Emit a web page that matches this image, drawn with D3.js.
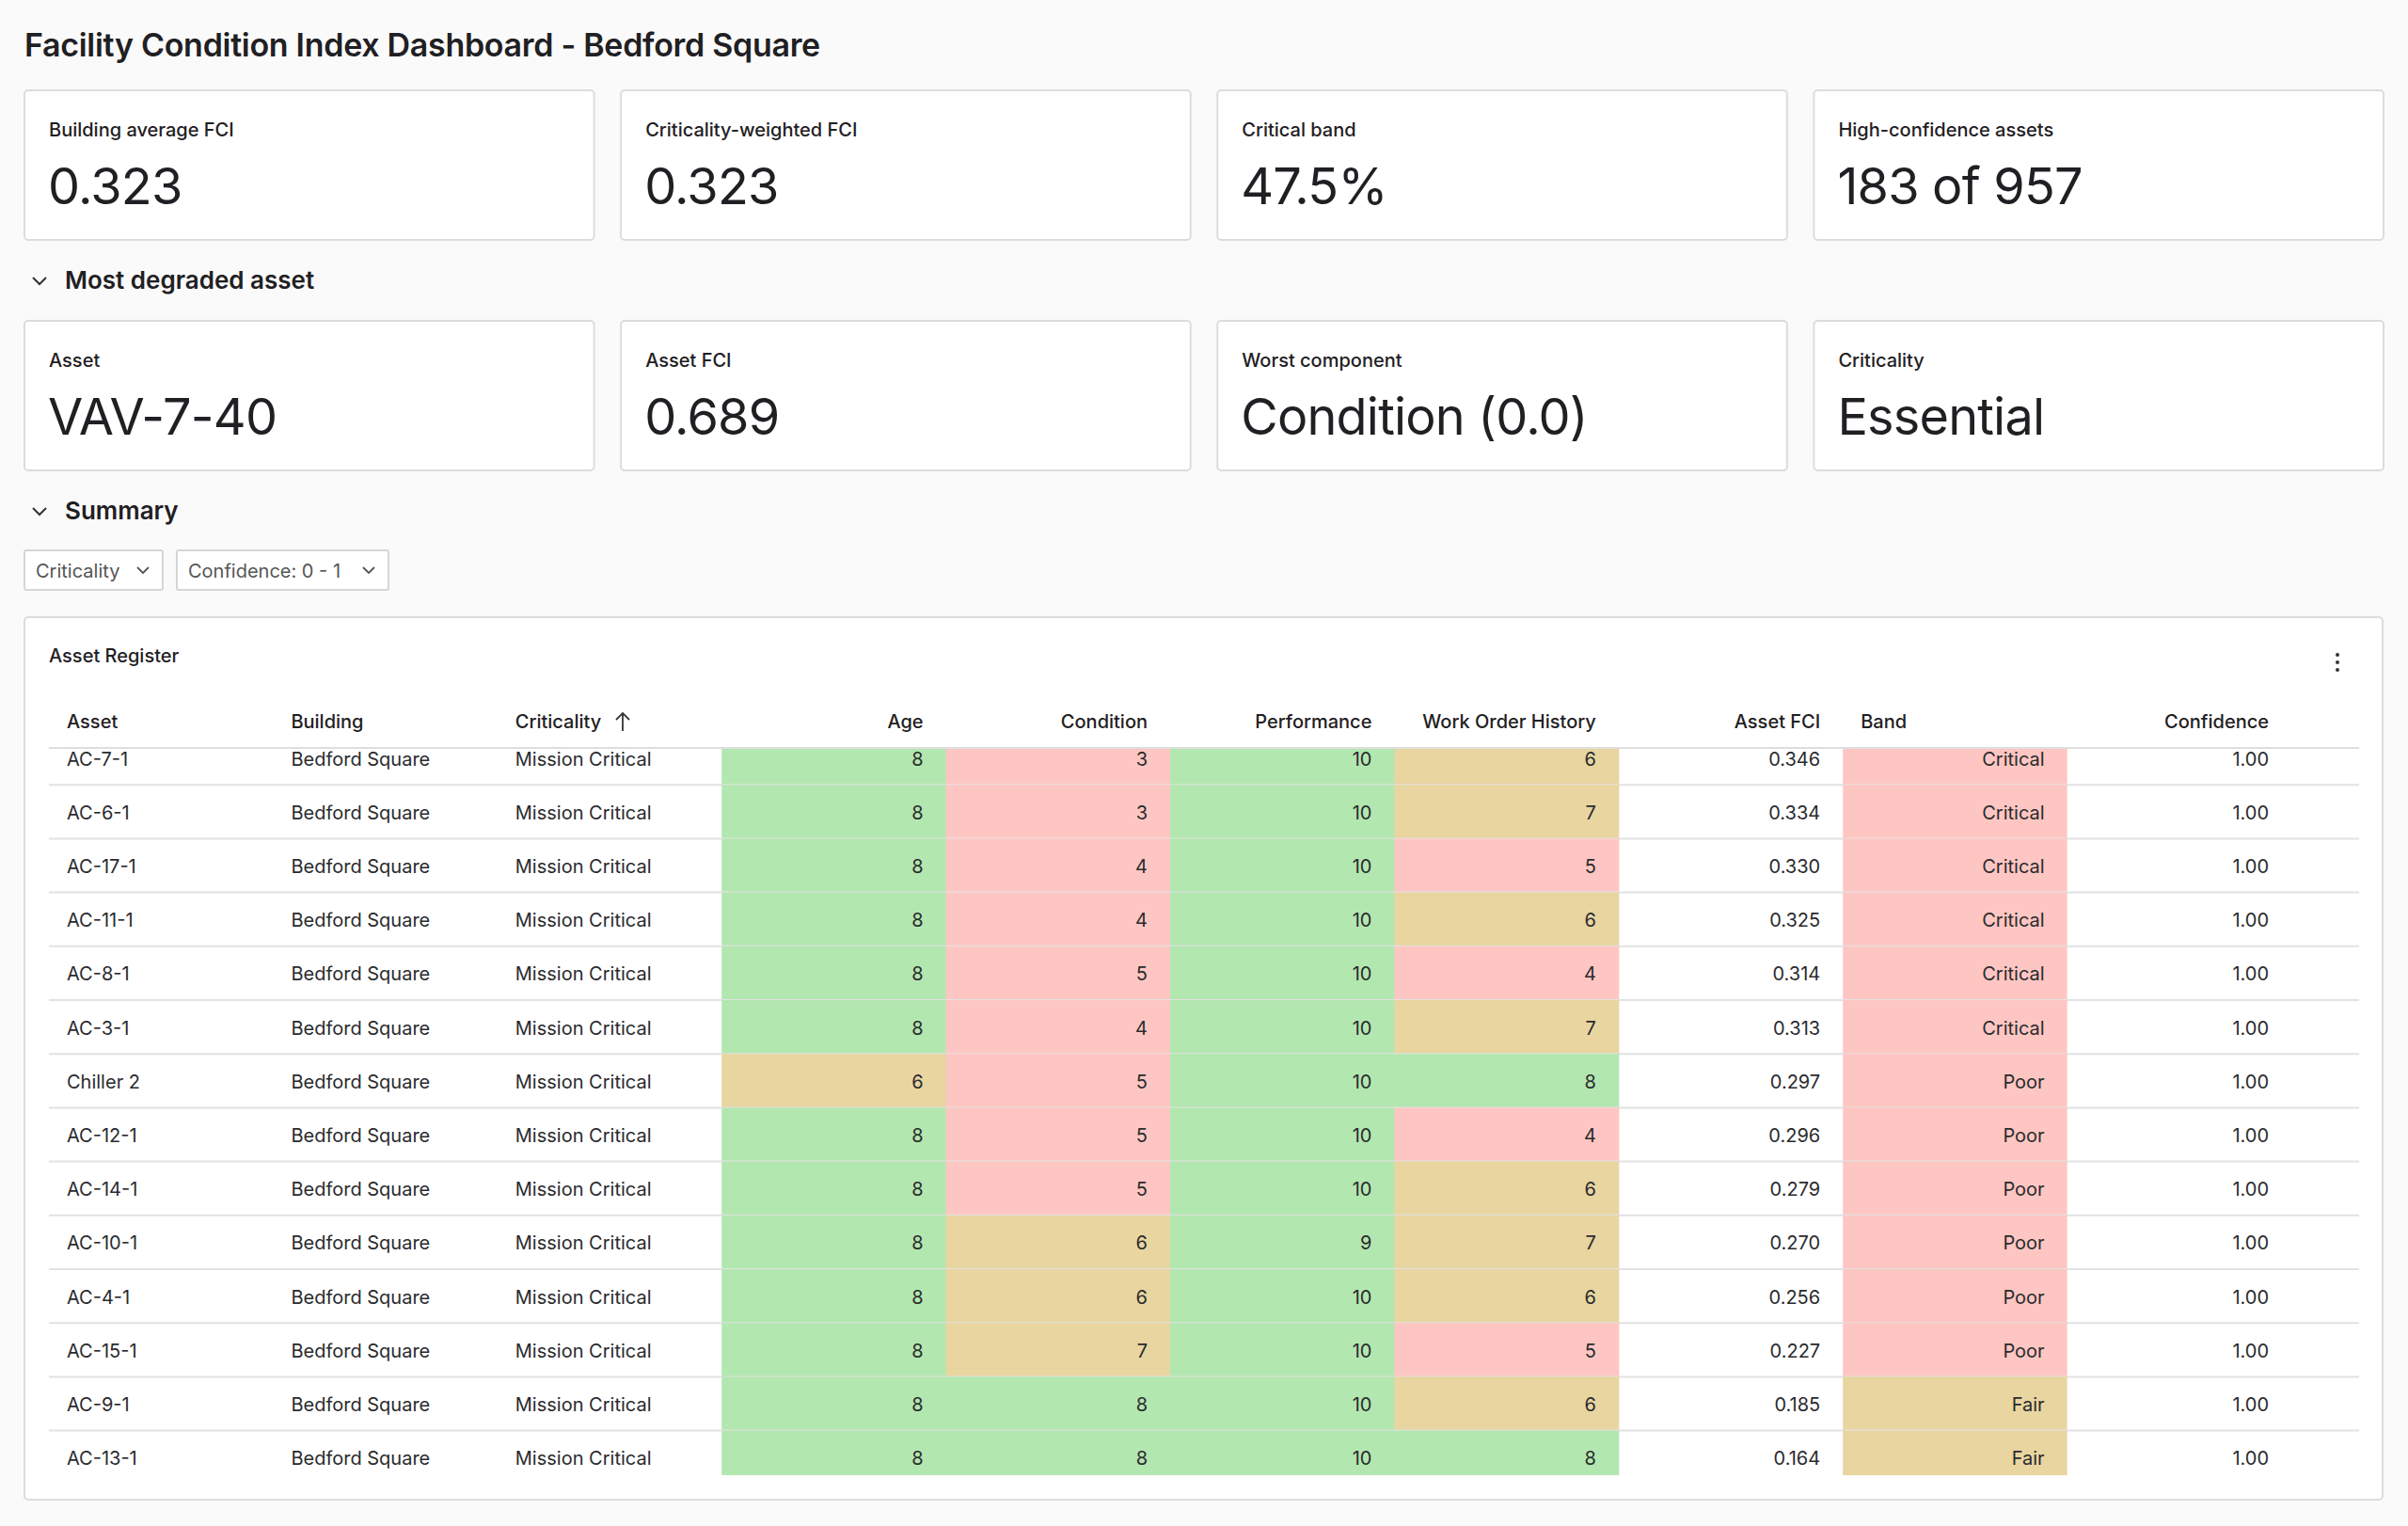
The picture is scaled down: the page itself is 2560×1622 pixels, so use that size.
<!DOCTYPE html>
<html>
<head>
<meta charset="utf-8">
<script src="https://cdn.jsdelivr.net/npm/d3@7"></script>
<style>
  body { margin: 0; background: #fafafa; font-family: Inter, "Noto Sans", sans-serif; }
  svg text { font-family: Inter, "Noto Sans", sans-serif; fill: #1f2023; }
</style>
</head>
<body>
<svg id="dash"></svg>
<script>
const kpiLabels = ["Building average FCI", "Criticality-weighted FCI", "Critical band", "High-confidence assets"];
const kpiValues = ["0.323", "0.323", "47.5%", "183 of 957"];
const worstLabels = ["Asset", "Asset FCI", "Worst component", "Criticality"];
const worstValues = ["VAV-7-40", "0.689", "Condition (0.0)", "Essential"];

const columns = ["Asset", "Building", "Criticality", "Age", "Condition", "Performance", "Work Order History", "Asset FCI", "Band", "Confidence"];
const assets = ["AC-7-1", "AC-6-1", "AC-17-1", "AC-11-1", "AC-8-1", "AC-3-1", "Chiller 2", "AC-12-1", "AC-14-1", "AC-10-1", "AC-4-1", "AC-15-1", "AC-9-1", "AC-13-1"];
const age = [8, 8, 8, 8, 8, 8, 6, 8, 8, 8, 8, 8, 8, 8];
const condition = [3, 3, 4, 4, 5, 4, 5, 5, 5, 6, 6, 7, 8, 8];
const performance = [10, 10, 10, 10, 10, 10, 10, 10, 10, 9, 10, 10, 10, 10];
const workOrders = [6, 7, 5, 6, 4, 7, 8, 4, 6, 7, 6, 5, 6, 8];
const assetFci = [0.346, 0.334, 0.330, 0.325, 0.314, 0.313, 0.297, 0.296, 0.279, 0.270, 0.256, 0.227, 0.185, 0.164];
const band = ["Critical", "Critical", "Critical", "Critical", "Critical", "Critical", "Poor", "Poor", "Poor", "Poor", "Poor", "Poor", "Fair", "Fair"];
const confidence = [1, 1, 1, 1, 1, 1, 1, 1, 1, 1, 1, 1, 1, 1];

const W = 2560, H = 1622;
const svg = d3.select("#dash").attr("width", W).attr("height", H);

const GREEN = "#b3e7b0", TAN = "#e8d5a0", RED = "#fec6c2";
const scoreColor = d3.scaleThreshold().domain([6, 8]).range([RED, TAN, GREEN]);
const bandColor = d3.scaleOrdinal().domain(["Critical", "Poor", "Fair"]).range([RED, RED, TAN]);

svg.append("text").attr("x", 26).attr("y", 60).attr("font-size", 34).attr("font-weight", 600)
  .attr("letter-spacing", -0.3).text("Facility Condition Index Dashboard - Bedford Square");

// KPI cards
const cardX = d3.scaleBand().domain(d3.range(4)).range([26, 2534]).paddingInner(0.045);
function cards(y, labels, values) {
  const g = svg.append("g").selectAll("g").data(labels).join("g")
    .attr("transform", (d, i) => `translate(${cardX(i)},${y})`);
  g.append("rect").attr("width", cardX.bandwidth()).attr("height", 159).attr("rx", 4)
    .attr("fill", "#fff").attr("stroke", "#dcdcdc").attr("stroke-width", 2);
  g.append("text").attr("x", 26).attr("y", 49).attr("font-size", 20).attr("font-weight", 500).text(d => d);
  g.append("text").attr("x", 25).attr("y", 121).attr("font-size", 54).attr("font-weight", 400)
    .attr("letter-spacing", -0.8).text((d, i) => values[i]);
}
cards(96, kpiLabels, kpiValues);
cards(341, worstLabels, worstValues);

function section(y, label) {
  svg.append("path").attr("d", `M35,${y - 12} l7,7 l7,-7`).attr("fill", "none").attr("stroke", "#333").attr("stroke-width", 2);
  svg.append("text").attr("x", 69).attr("y", y).attr("font-size", 26).attr("font-weight", 600).text(label);
}
section(307, "Most degraded asset");
section(552, "Summary");

// filter buttons
const filters = [{ t: "Criticality", x: 26, w: 147 }, { t: "Confidence: 0 - 1", x: 188, w: 225 }];
const fb = svg.append("g").selectAll("g").data(filters).join("g").attr("transform", d => `translate(${d.x},585)`);
fb.append("rect").attr("width", d => d.w).attr("height", 42).attr("rx", 2).attr("fill", "#fff").attr("stroke", "#d6d6d6").attr("stroke-width", 2);
fb.append("text").attr("x", 12).attr("y", 29).attr("font-size", 20).style("fill", "#555").text(d => d.t);
fb.append("path").attr("d", d => `M${d.w - 27},${18} l6,6 l6,-6`).attr("fill", "none").attr("stroke", "#555").attr("stroke-width", 1.8);

// table panel
svg.append("rect").attr("x", 26).attr("y", 656).attr("width", 2507).attr("height", 938).attr("rx", 4)
  .attr("fill", "#fff").attr("stroke", "#dcdcdc").attr("stroke-width", 2);
svg.append("text").attr("x", 52).attr("y", 704).attr("font-size", 20).attr("font-weight", 500).text("Asset Register");
[-8, 0, 8].forEach(o => svg.append("circle").attr("cx", 2485).attr("cy", 704 + o).attr("r", 2).attr("fill", "#333"));

const colX = d3.scaleBand().domain(columns).range([52, 52 + 238.4 * columns.length]);
const rightCols = new Set(["Age", "Condition", "Performance", "Work Order History", "Asset FCI", "Band", "Confidence"]);
const pad = 24;
const textX = c => rightCols.has(c) ? colX(c) + colX.bandwidth() - pad : colX(c) + 19;

svg.append("g").selectAll("text").data(columns).join("text")
  .attr("x", d => d === "Band" ? colX(d) + 19 : textX(d)).attr("y", 774).attr("font-size", 20).attr("font-weight", 500)
  .attr("text-anchor", d => rightCols.has(d) && d !== "Band" ? "end" : "start").text(d => d);
svg.append("path").attr("d", "M662,777 l0,-19 M655,765 l7,-7 l7,7").attr("fill", "none").attr("stroke", "#333").attr("stroke-width", 1.8);

// body rows, first row slightly scrolled
const rowH = 57.2, bodyTop = 795, scroll = 18;
const rowY = d3.scaleBand().domain(assets).range([bodyTop - scroll, bodyTop - scroll + rowH * assets.length]);
svg.append("defs").append("clipPath").attr("id", "bodyclip").append("rect")
  .attr("x", 40).attr("y", bodyTop).attr("width", 2480).attr("height", 1568 - bodyTop);
const body = svg.append("g").attr("clip-path", "url(#bodyclip)");

const rows = assets.map((a, i) => ({
  Asset: a, Building: "Bedford Square", Criticality: "Mission Critical",
  Age: age[i], Condition: condition[i], Performance: performance[i], "Work Order History": workOrders[i],
  "Asset FCI": assetFci[i].toFixed(3), Band: band[i], Confidence: confidence[i].toFixed(2)
}));
const scoreCols = ["Age", "Condition", "Performance", "Work Order History"];

const r = body.selectAll("g.row").data(rows).join("g").attr("class", "row")
  .attr("transform", d => `translate(0,${rowY(d.Asset)})`);
scoreCols.forEach(c => r.append("rect").attr("x", colX(c)).attr("width", colX.bandwidth() + 0.5).attr("height", rowH)
  .attr("fill", d => scoreColor(d[c])));
r.append("rect").attr("x", colX("Band")).attr("width", colX.bandwidth()).attr("height", rowH).attr("fill", d => bandColor(d.Band));
columns.forEach(c => r.append("text").attr("x", textX(c)).attr("y", rowH / 2 + 8).attr("font-size", 20)
  .attr("text-anchor", rightCols.has(c) ? "end" : "start").style("fill", "#2a2b2e").text(d => d[c]));
r.append("line").attr("x1", 52).attr("x2", 2508).attr("y1", rowH).attr("y2", rowH).attr("stroke", "#e2e2e2").attr("stroke-width", 2);
svg.append("line").attr("x1", 52).attr("x2", 2508).attr("y1", bodyTop).attr("y2", bodyTop).attr("stroke", "#dedede").attr("stroke-width", 2);
</script>
</body>
</html>
